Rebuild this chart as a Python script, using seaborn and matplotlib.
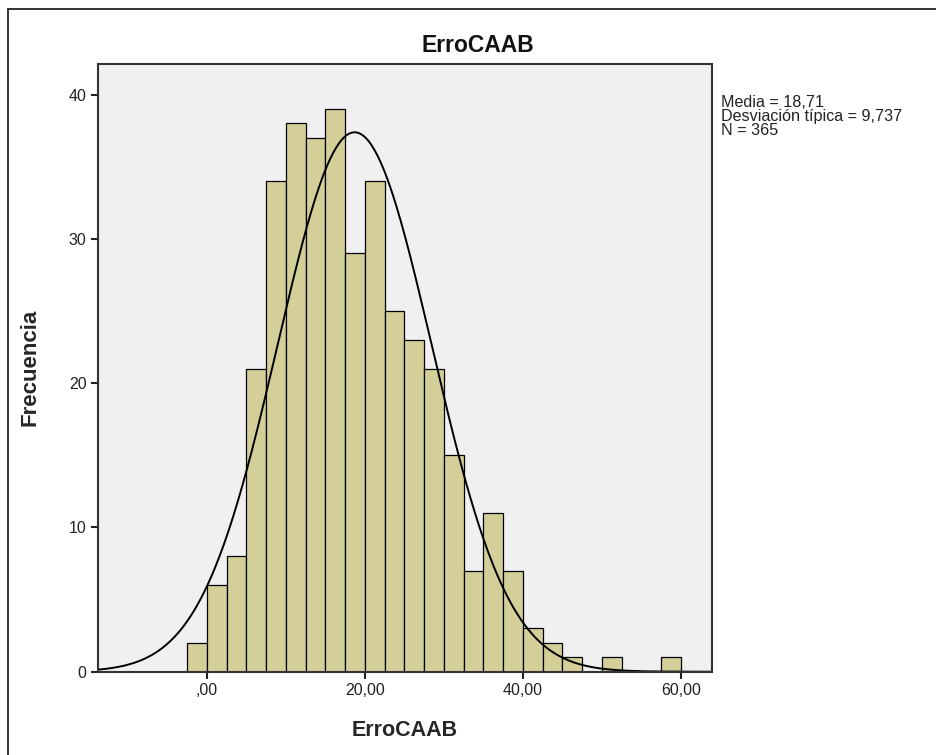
import numpy as np
import pandas as pd
import matplotlib
matplotlib.use("Agg")
import matplotlib.pyplot as plt
from matplotlib.lines import Line2D
import seaborn as sns

# --- data ---
bin_edges = [-2.5, 0.0, 2.5, 5.0, 7.5, 10.0, 12.5, 15.0, 17.5, 20.0, 22.5, 25.0, 27.5,
             30.0, 32.5, 35.0, 37.5, 40.0, 42.5, 45.0, 47.5, 50.0, 52.5, 55.0, 57.5, 60.0]
counts = [2, 6, 8, 21, 34, 38, 37, 39, 29, 34, 25, 23, 21,
          15, 7, 11, 7, 3, 2, 1, 0, 1, 0, 0, 1]
MEAN = 18.71
SD = 9.737
N = 365
x_ticks = [0, 20, 40, 60]
x_tick_labels = [",00", "20,00", "40,00", "60,00"]
y_ticks = [0, 10, 20, 30, 40]

centers = [(a + b) / 2 for a, b in zip(bin_edges[:-1], bin_edges[1:])]
df = pd.DataFrame({"ErroCAAB": centers, "n": counts})

sns.set_style("white")
plt.rcParams["font.family"] = ["Liberation Sans", "DejaVu Sans"]

fig = plt.figure(figsize=(9.36, 7.55), dpi=100)
ax = fig.add_axes([0.1044, 0.1103, 0.6560, 0.8055])
ax.set_facecolor("#F0F0F0")

sns.histplot(data=df, x="ErroCAAB", weights="n", bins=bin_edges,
             color="#D4CF98", alpha=1, edgecolor="black", linewidth=0.9, ax=ax)

# fitted normal curve (SPSS overlay), scaled to counts per bin
xlim = (-13.8, 63.9)
bw = bin_edges[1] - bin_edges[0]
xs = np.linspace(xlim[0], xlim[1], 400)
ys = N * bw / (SD * np.sqrt(2 * np.pi)) * np.exp(-0.5 * ((xs - MEAN) / SD) ** 2)
sns.lineplot(x=xs, y=ys, color="black", linewidth=1.4, ax=ax)

ax.set_xlim(*xlim)
ax.set_ylim(0, 42.15)
ax.set_xticks(x_ticks)
ax.set_xticklabels(x_tick_labels)
ax.set_yticks(y_ticks)
ax.tick_params(axis="both", direction="out", length=5, width=1.5, color="#222222",
               labelsize=11.5, labelcolor="#222222", pad=3,
               bottom=True, left=True, top=False, right=False)
for sp in ax.spines.values():
    sp.set_color("#333333")
    sp.set_linewidth(1.5)

# SPSS centres the title on the whole chart, not on the plot area
fig.text(478 / 936, 1 - 45 / 755, "ErroCAAB", fontsize=16.5, fontweight="bold",
         ha="center", va="center", color="#111111")
ax.set_xlabel("ErroCAAB", fontsize=15.5, fontweight="bold", labelpad=16)
ax.set_ylabel("Frecuencia", fontsize=16, fontweight="bold", labelpad=20)

fig.text(721 / 936, 1 - 95 / 755,
         "Media = 18,71\nDesviación típica = 9,737\nN = 365",
         fontsize=11.6, va="top", ha="left", linespacing=0.9, color="#222222")

# outer frame of the SPSS output
fig.add_artist(Line2D([8 / 936, 8 / 936], [0, 1 - 9 / 755], color="#333333", linewidth=1.4))
fig.add_artist(Line2D([8 / 936, 1], [1 - 9 / 755, 1 - 9 / 755], color="#333333", linewidth=1.4))

fig.savefig("out.png", dpi=100)
